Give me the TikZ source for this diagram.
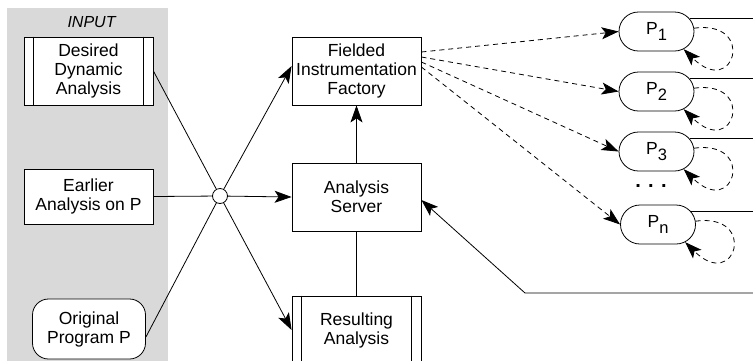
\documentclass[tikz,border=0pt]{standalone}
\usepackage{fontspec}
\setmainfont{Liberation Sans}
\usetikzlibrary{arrows.meta,shapes.misc,calc}
\newcommand{\Psub}[1]{P\raisebox{-6pt}{\fontsize{16.5}{16}\selectfont #1}}

\begin{document}
\begin{tikzpicture}[x=1pt,y=-1pt,line width=.8pt,
    every node/.style={font=\fontsize{17.5}{19}\selectfont, inner sep=0pt},
    box/.style={draw, minimum width=129pt, minimum height=68pt, align=center},
    pill/.style={draw, rounded rectangle, minimum width=75pt, minimum height=39pt},
    arr/.style={-{Stealth[length=17pt,width=12pt,inset=4pt]}},
    dsh/.style={dash pattern=on 5pt off 4pt}]
   \useasboundingbox (0,0) rectangle (753,360);
   \fill [gray!30] (7,8) rectangle (168,365);
   \node (input) at (92,22) {\fontsize{16}{16}\selectfont\textit{INPUT}};
   \node [box, fill=white] (desired) at (88.5,71) {Desired\\Dynamic\\Analysis};
   \node [box, fill=white, minimum height=55pt] (earlier) at (88.5,196.5) {Earlier\\Analysis on P};
   \node [box, fill=white, minimum width=113pt, minimum height=60pt, rounded corners=16pt] (orig) at (89,329) {Original\\Program P};
   \node [draw, circle, minimum size=15pt] (hub) at (220,196) {};
   \node [box] (fif) at (356.5,71) {Fielded\\Instrumentation\\Factory};
   \node [box] (server) at (356.5,197) {Analysis\\Server};
   \node [box] (result) at (356.5,330) {Resulting\\Analysis};
   \foreach \b in {desired,result} {
     \draw ([xshift=10pt]\b.north west) -- ([xshift=10pt]\b.south west);
     \draw ([xshift=-10pt]\b.north east) -- ([xshift=-10pt]\b.south east);
   }
   \node [pill] (p1) at (656.5,31.5) {\Psub{1}};
   \node [pill] (p2) at (656.5,91.5) {\Psub{2}};
   \node [pill] (p3) at (656.5,151.5) {\Psub{3}};
   \node (dots) at (651,186) {\fontsize{20}{20}\selectfont\textbf{. . .}};
   \node [pill] (pn) at (658,224.5) {\Psub{n}};
   \coordinate (edge) at (753,0);
   \coordinate (back) at (753,293);
   \coordinate (bend) at (525,293);
   \draw (desired.east) -- (hub);
   \draw [arr] (hub) -- (result.west);
   \draw ([yshift=-8pt]orig.east) -- (hub);
   \draw [arr] (hub) -- ([yshift=5pt]fif.west);
   \draw (earlier.east) -- (hub);
   \draw [arr] (hub) -- (server.west);
   \draw [arr] (server) -- (fif);
   \draw (result) -- (server);
   \draw [arr] (back) -- (bend) -- ([yshift=-3pt]server.east);
   \foreach \n/\s in {1/19,2/14,3/9,n/4} {
     \draw [dsh, arr] ([yshift=\s pt]fif.east) -- (p\n.west);
     \draw (p\n.21) -- (p\n.21 -| edge);
     \draw [dsh, arr] (p\n.5) .. controls ($(p\n)+(100,-12)$) and ($(p\n)+(78,68)$) .. (p\n.-33);
   }
\end{tikzpicture}
\end{document}
